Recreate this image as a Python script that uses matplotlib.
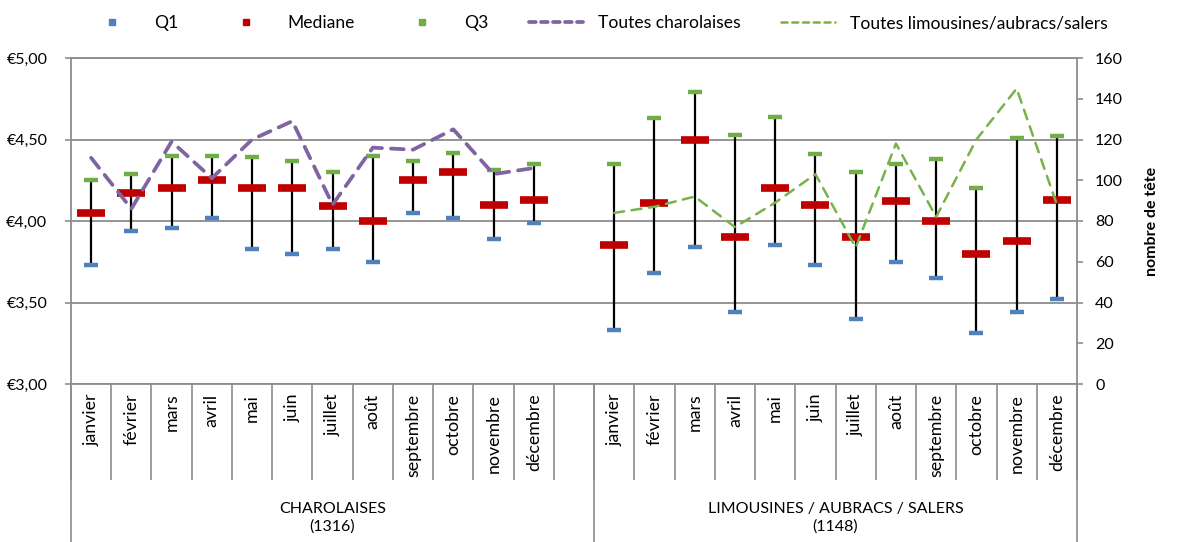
import matplotlib.pyplot as plt
import matplotlib.transforms as mtransforms
from matplotlib.lines import Line2D
from matplotlib.ticker import FuncFormatter, MultipleLocator

plt.rcParams['font.family'] = ['Lato', 'DejaVu Sans']
plt.rcParams['font.size'] = 11.5

# données
mois = ["janvier", "février", "mars", "avril", "mai", "juin", "juillet",
        "août", "septembre", "octobre", "novembre", "décembre"]
groupes = ["CHAROLAISES\n(1316)", "LIMOUSINES / AUBRACS / SALERS\n(1148)"]

charo_q1 = [3.73, 3.94, 3.96, 4.02, 3.83, 3.80, 3.83, 3.75, 4.05, 4.02, 3.89, 3.99]
charo_med = [4.05, 4.17, 4.20, 4.25, 4.20, 4.20, 4.09, 4.00, 4.25, 4.30, 4.10, 4.13]
charo_q3 = [4.25, 4.29, 4.40, 4.40, 4.39, 4.37, 4.30, 4.40, 4.37, 4.42, 4.31, 4.35]
charo_nb = [111, 86, 119, 101, 120, 129, 88, 116, 115, 125, 103, 106]

limo_q1 = [3.33, 3.68, 3.84, 3.44, 3.85, 3.73, 3.40, 3.75, 3.65, 3.31, 3.44, 3.52]
limo_med = [3.85, 4.11, 4.50, 3.90, 4.20, 4.10, 3.90, 4.12, 4.00, 3.80, 3.88, 4.13]
limo_q3 = [4.35, 4.63, 4.79, 4.53, 4.64, 4.41, 4.30, 4.35, 4.38, 4.20, 4.51, 4.52]
limo_nb = [84, 87, 92, 77, 89, 103, 67, 118, 82, 120, 145, 88]

bleu, rouge, vert, violet = "#4F81BD", "#C00000", "#70AD47", "#8064A2"
vert_ligne = "#77B24A"
gris = "#8C8C8C"

x_charo = list(range(12))
x_limo = list(range(13, 25))

fig = plt.figure(figsize=(11.88, 5.42), dpi=100)
ax = fig.add_axes([71 / 1188, 1 - 384 / 542, 1006 / 1188, 326 / 542])
ax2 = ax.twinx()

# traits Q1 -> Q3 et marqueurs
for xs, q1, med, q3 in [(x_charo, charo_q1, charo_med, charo_q3),
                        (x_limo, limo_q1, limo_med, limo_q3)]:
    ax.vlines(xs, q1, q3, color="black", lw=1.6, zorder=3)
    ax.plot(xs, q1, ls="none", marker="_", ms=10.5, mew=3.2, color=bleu, zorder=4)
    ax.plot(xs, q3, ls="none", marker="_", ms=10.5, mew=3.2, color=vert, zorder=4)
    ax.plot(xs, med, ls="none", marker="_", ms=20.5, mew=5.5, color=rouge, zorder=5)

# nombre de têtes (axe secondaire)
ax2.plot(x_charo, charo_nb, color=violet, lw=2.7, dashes=(3.4, 2.4),
         dash_capstyle="round")
ax2.plot(x_limo, limo_nb, color=vert_ligne, lw=1.8, dashes=(4.0, 3.0),
         dash_capstyle="round")

# axe principal
ax.set_xlim(-0.5, 24.5)
ax.set_ylim(3, 5)
ax.yaxis.set_major_locator(MultipleLocator(0.5))
ax.yaxis.set_major_formatter(FuncFormatter(lambda v, p: ("€%.2f" % v).replace(".", ",")))
ax.grid(axis="y", color=gris, lw=1.3)
ax.set_axisbelow(True)
for s in ax.spines.values():
    s.set_color(gris)
    s.set_linewidth(1.3)
ax.tick_params(axis="y", direction="out", length=4, width=1.2, color=gris, pad=13)

# axe secondaire
ax2.set_ylim(0, 160)
ax2.yaxis.set_major_locator(MultipleLocator(20))
ax2.tick_params(axis="y", direction="out", length=4, width=1.2, color=gris, pad=9)
for s in ax2.spines.values():
    s.set_visible(False)
ax2.set_ylabel("nombre de tête", fontweight="bold", labelpad=16)

# étiquettes des mois et séparateurs
pos = x_charo + x_limo
ax.set_xticks(pos)
ax.set_xticklabels(mois + mois, rotation=90, va="top", fontsize=12.8)
ax.tick_params(axis="x", length=0, pad=7)
ax.set_xticks([k - 0.5 for k in range(26)], minor=True)
ax.tick_params(axis="x", which="minor", direction="out", length=69, width=1.2, color=gris)

trans = mtransforms.blended_transform_factory(ax.transData, ax.transAxes)
for k in [-0.5, 12.5, 24.5]:
    ax.plot([k, k], [0, -158 / 326], transform=trans, color=gris, lw=1.2,
            clip_on=False)
for cx, lab in zip([6, 18.5], groupes):
    ax.text(cx, -134 / 326, lab, transform=trans, ha="center", va="center",
            linespacing=1.3)

# légende
poignees = [
    Line2D([], [], ls="none", marker="s", ms=4.5, color=bleu),
    Line2D([], [], ls="none", marker="s", ms=4.5, color=rouge),
    Line2D([], [], ls="none", marker="s", ms=4.5, color=vert),
    Line2D([], [], color=violet, lw=2.7, dashes=(1.8, 1.4), dash_capstyle="round"),
    Line2D([], [], color=vert_ligne, lw=1.8, dashes=(2.4, 1.9), dash_capstyle="round"),
]
noms = ["Q1", "Mediane", "Q3", "Toutes charolaises",
        "Toutes limousines/aubracs/salers"]
fig.legend(poignees, noms, loc="center", bbox_to_anchor=(0.502, 0.957), ncol=5,
           frameon=False, fontsize=12.6, handlelength=3.1, handletextpad=0.85,
           columnspacing=2.3)

plt.savefig("out.png", dpi=100)
